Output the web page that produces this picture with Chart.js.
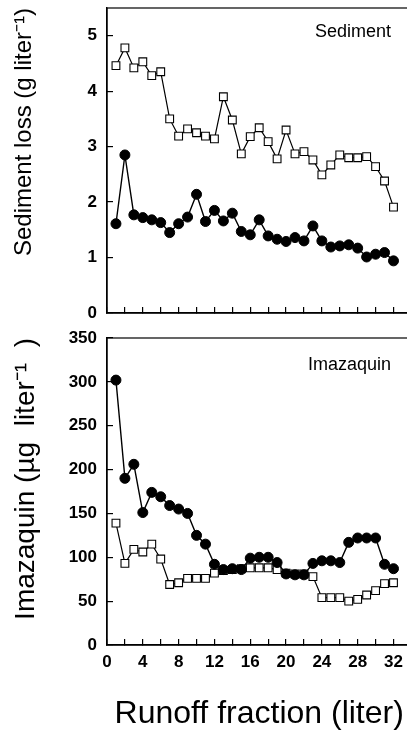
<!DOCTYPE html>
<html>
<head>
<meta charset="utf-8">
<script src="https://cdn.jsdelivr.net/npm/chart.js@4/dist/chart.umd.min.js"></script>
<style>
  html, body { margin: 0; padding: 0; background: #fff; overflow: hidden; width: 407px; height: 730px; }
  canvas { position: absolute; left: 0; }
  #sed { top: 0; }
  #ima { top: 320px; }
</style>
</head>
<body>
<canvas id="sed" width="418" height="330"></canvas>
<canvas id="ima" width="418" height="410"></canvas>
<script>
"use strict";

// runoff fraction (liter)
const fractions = [1, 2, 3, 4, 5, 6, 7, 8, 9, 10, 11, 12, 13, 14, 15, 16,
  17, 18, 19, 20, 21, 22, 23, 24, 25, 26, 27, 28, 29, 30, 31, 32];

// sediment loss (g/liter)
const sedFilled = [1.61, 2.85, 1.77, 1.72, 1.68, 1.63, 1.45, 1.61, 1.73, 2.14, 1.65, 1.85, 1.66, 1.80, 1.47, 1.41,
  1.68, 1.39, 1.33, 1.29, 1.36, 1.30, 1.57, 1.30, 1.19, 1.21, 1.23, 1.17, 1.01, 1.06, 1.09, 0.94];
const sedOpen = [4.46, 4.78, 4.42, 4.53, 4.28, 4.35, 3.50, 3.19, 3.32, 3.25, 3.19, 3.14, 3.90, 3.48, 2.87, 3.18,
  3.34, 3.09, 2.78, 3.30, 2.87, 2.91, 2.76, 2.49, 2.67, 2.85, 2.80, 2.80, 2.82, 2.64, 2.38, 1.91];

// imazaquin (ug/liter)
const imaFilled = [302, 190, 206, 151, 174, 169, 159, 155, 150, 125, 115, 92, 86, 87, 86, 99,
  100, 100, 94, 81, 80, 80, 93, 96, 96, 94, 117, 122, 122, 122, 92, 87];
const imaOpen = [139, 93, 109, 106, 115, 98, 69, 71, 76, 76, 76, 82, 85, 86, 87, 88,
  88, 88, 86, 82, 81, 81, 78, 54, 54, 54, 50, 52, 57, 62, 70, 71];

const FONT = '"Liberation Sans", Arial, Helvetica, sans-serif';

// box around plot + panel label
const framePlugin = {
  id: "frame",
  afterDraw(chart, args, opts) {
    const ctx = chart.ctx;
    const a = chart.chartArea;
    ctx.save();
    ctx.strokeStyle = "#000";
    ctx.lineWidth = 1.2;
    ctx.strokeRect(a.left, a.top, a.right - a.left, a.bottom - a.top);
    ctx.font = "18px " + FONT;
    ctx.fillStyle = "#000";
    ctx.textAlign = "right";
    ctx.fillText(opts.label, opts.labelX, a.top + opts.labelDy);
    ctx.restore();
  }
};

function pts(ys) {
  return fractions.map((x, i) => ({ x: x, y: ys[i] }));
}

function makeChart(id, cfg) {
  return new Chart(document.getElementById(id), {
    type: "line",
    data: {
      datasets: [
        {
          data: pts(cfg.filled),
          borderColor: "#000",
          borderWidth: 1.4,
          backgroundColor: "#000",
          pointStyle: "circle",
          pointRadius: 5,
          pointBorderWidth: 1,
          pointBorderColor: "#000",
          pointBackgroundColor: "#000",
          tension: 0
        },
        {
          data: pts(cfg.open),
          borderColor: "#000",
          borderWidth: 1.2,
          pointStyle: "rect",
          pointRadius: 5.5,
          pointBorderWidth: 1.1,
          pointBorderColor: "#000",
          pointBackgroundColor: "#fff",
          tension: 0
        }
      ]
    },
    options: {
      responsive: false,
      animation: false,
      layout: { padding: { left: 0, right: 2, top: cfg.padTop, bottom: 0 } },
      plugins: {
        legend: { display: false },
        tooltip: { enabled: false },
        frame: { label: cfg.label, labelX: 391, labelDy: cfg.labelDy }
      },
      scales: {
        x: {
          type: "linear",
          min: 0,
          max: 34,
          afterFit(scale) {
            scale.height = cfg.xHeight;
            scale.paddingLeft = 0;
            scale.paddingRight = 0;
          },
          border: { color: "#000", width: 1.4 },
          grid: { drawOnChartArea: false, drawTicks: true, tickLength: -6, color: "#000", lineWidth: 1.2 },
          ticks: {
            stepSize: 2,
            includeBounds: false,
            autoSkip: false,
            maxRotation: 0,
            padding: 13,
            color: "#000",
            font: { family: FONT, size: 17, weight: "bold" },
            callback: (v) => (cfg.xLabels && v % 4 === 0 ? v : "")
          },
          title: {
            display: cfg.xLabels,
            text: "Runoff fraction (liter)",
            color: "#000",
            font: { family: FONT, size: 32, lineHeight: 1 },
            padding: { top: 0, bottom: 0 }
          }
        },
        y: {
          min: 0,
          max: cfg.yMax,
          afterFit(scale) {
            scale.width = 107;
            scale.paddingTop = 0;
            scale.paddingBottom = 0;
          },
          border: { color: "#000", width: 1.4 },
          grid: { drawOnChartArea: false, drawTicks: true, tickLength: -6, color: "#000", lineWidth: 1.2 },
          ticks: {
            stepSize: cfg.yStep,
            includeBounds: false,
            padding: 16,
            color: "#000",
            font: { family: FONT, size: 17, weight: "bold" }
          },
          title: {
            display: true,
            text: cfg.yTitle,
            align: "end",
            color: "#000",
            font: { family: FONT, size: cfg.yTitleSize, lineHeight: 1 },
            padding: { top: 12, bottom: 0 }
          }
        }
      }
    },
    plugins: [framePlugin]
  });
}

makeChart("sed", {
  filled: sedFilled,
  open: sedOpen,
  yMax: 5.5,
  yStep: 1,
  padTop: 8,
  xHeight: 17,
  xLabels: false,
  label: "Sediment",
  labelDy: 29,
  yTitle: "Sediment loss (g liter\u207B\u00B9)",
  yTitleSize: 24
});

makeChart("ima", {
  filled: imaFilled,
  open: imaOpen,
  yMax: 350,
  yStep: 50,
  padTop: 18,
  xHeight: 85,
  xLabels: true,
  label: "Imazaquin",
  labelDy: 32,
  yTitle: "Imazaquin (\u00B5g  liter\u207B\u00B9  )",
  yTitleSize: 28
});
</script>
</body>
</html>
